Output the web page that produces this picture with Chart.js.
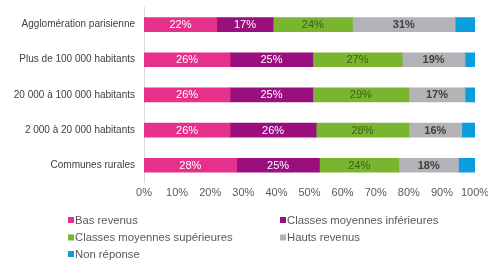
<!DOCTYPE html>
<html>
<head>
<meta charset="utf-8">
<script src="https://cdn.jsdelivr.net/npm/chart.js@4.4.0/dist/chart.umd.min.js"></script>
<style>
  html, body { margin: 0; padding: 0; background: #fff; }
  #wrap { width: 488px; height: 260px; }
</style>
</head>
<body>
<div id="wrap"><canvas id="revenusChart" width="488" height="260"></canvas></div>
<script>
// categories (rows) and series values, in %
const categories = [
  "Agglomération parisienne",
  "Plus de 100 000 habitants",
  "20 000 à 100 000 habitants",
  "2 000 à 20 000 habitants",
  "Communes rurales"
];
const basRevenus = [22, 26, 26, 26, 28];
const moyInferieures = [17, 25, 25, 26, 25];
const moySuperieures = [24, 27, 29, 28, 24];
const hautsRevenus = [31, 19, 17, 16, 18];
const nonReponse = [6, 3, 3, 4, 5];
const xTicks = [0, 10, 20, 30, 40, 50, 60, 70, 80, 90, 100];

const FONT = "'Liberation Sans', Arial, sans-serif";

const series = [
  { label: "Bas revenus", data: basRevenus, color: "#e5318b", text: "#ffffff", bold: false },
  { label: "Classes moyennes inférieures", data: moyInferieures, color: "#990f7e", text: "#ffffff", bold: false },
  { label: "Classes moyennes supérieures", data: moySuperieures, color: "#7ab530", text: "#3f5f1c", bold: false },
  { label: "Hauts revenus", data: hautsRevenus, color: "#b3b3b7", text: "#404040", bold: true },
  { label: "Non réponse", data: nonReponse, color: "#0a9fdc", text: null, bold: false }
];

// percentage labels inside each segment (except "Non réponse")
const segmentLabels = {
  id: "segmentLabels",
  afterDatasetsDraw(chart) {
    const ctx = chart.ctx;
    ctx.save();
    ctx.textAlign = "center";
    ctx.textBaseline = "middle";
    chart.data.datasets.forEach((ds, i) => {
      const s = series[i];
      if (!s.text) return;
      const meta = chart.getDatasetMeta(i);
      meta.data.forEach((bar, j) => {
        const x = (bar.x + bar.base) / 2;
        ctx.fillStyle = s.text;
        ctx.font = (s.bold ? "bold " : "") + "11px " + FONT;
        ctx.fillText(ds.data[j] + "%", x, bar.y + 0.5);
      });
    });
    ctx.restore();
  }
};

// two-column legend under the chart
const twoColLegend = {
  id: "twoColLegend",
  afterDraw(chart) {
    const ctx = chart.ctx;
    const cols = [68, 280];
    const rows = [220, 237.5, 254];
    ctx.save();
    ctx.font = "11.3px " + FONT;
    ctx.textBaseline = "middle";
    ctx.textAlign = "left";
    chart.data.datasets.forEach((ds, i) => {
      const x = cols[i % 2];
      const y = rows[Math.floor(i / 2)];
      ctx.fillStyle = ds.backgroundColor;
      ctx.fillRect(x, y - 3, 6, 6);
      ctx.fillStyle = "#595959";
      ctx.fillText(ds.label, x + 7, y + 0.5);
    });
    ctx.restore();
  }
};

const ctx = document.getElementById("revenusChart").getContext("2d");
new Chart(ctx, {
  type: "bar",
  data: {
    labels: categories,
    datasets: series.map((s) => ({
      label: s.label,
      data: s.data,
      backgroundColor: s.color,
      borderWidth: 0,
      barThickness: 14
    }))
  },
  options: {
    indexAxis: "y",
    responsive: false,
    animation: false,
    layout: { padding: { top: 7, right: 13, bottom: 56, left: 0 } },
    plugins: {
      legend: { display: false },
      tooltip: { enabled: false }
    },
    scales: {
      x: {
        stacked: true,
        min: 0,
        max: 100,
        afterBuildTicks: (scale) => { scale.ticks = xTicks.map((v) => ({ value: v })); },
        afterFit: (scale) => { scale.paddingLeft = 0; scale.paddingRight = 0; },
        grid: { display: false, drawTicks: false },
        border: { display: false },
        ticks: {
          color: "#595959",
          font: { family: FONT, size: 11 },
          padding: 4,
          maxRotation: 0,
          callback: (v) => v + "%"
        }
      },
      y: {
        stacked: true,
        afterFit: (scale) => { scale.width = 144; scale.paddingTop = 0; scale.paddingBottom = 0; },
        grid: { display: false, drawTicks: false },
        border: { display: true, color: "#d9d9d9", width: 1 },
        ticks: {
          color: "#404040",
          font: { family: FONT, size: 10 },
          padding: 9
        }
      }
    }
  },
  plugins: [segmentLabels, twoColLegend]
});
</script>
</body>
</html>
